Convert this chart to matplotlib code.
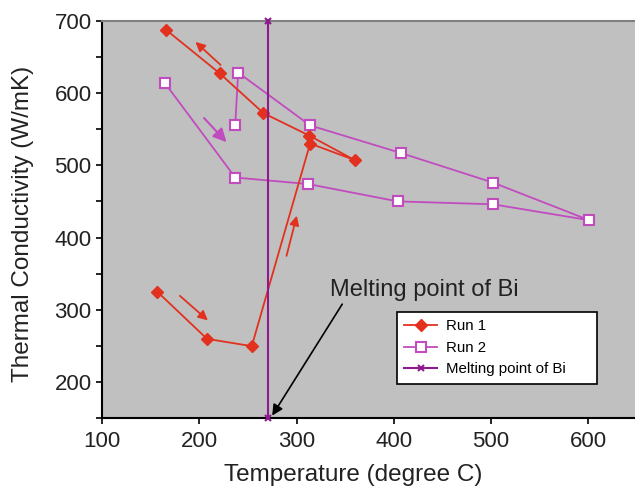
import numpy as np
import matplotlib.pyplot as plt

plt.rcParams['font.family'] = ['Liberation Sans', 'DejaVu Sans']

# Run 1 (in measurement order)
run1_t = [157, 208, 254, 314, 360, 313, 266, 221, 166]
run1_k = [325, 260, 250, 530, 507, 541, 572, 627, 687]

# Run 2 (in measurement order)
run2_t = [165, 237, 312, 404, 502, 601, 502, 407, 314, 240, 237]
run2_k = [613, 483, 474, 450, 446, 424, 476, 517, 555, 628, 556]

# melting point of Bi
mp_t = [271, 271]
mp_k = [150, 700]

red = '#e2311f'
mag = '#c04cbf'
purple = '#8e1a8e'

fig = plt.figure(figsize=(6.35, 4.87), dpi=100)
ax = fig.add_axes([0.1606, 0.1407, 0.8394, 0.8172])
ax.set_facecolor('#c0c0c0')

ax.plot(run1_t, run1_k, color=red, lw=1.3, marker='D', ms=6.5,
        mfc=red, mec=red, label='Run 1', zorder=4)
ax.plot(run2_t, run2_k, color=mag, lw=1.3, marker='s', ms=6.5,
        mfc='white', mec=mag, mew=1.5, label='Run 2', zorder=3)
ax.plot(mp_t, mp_k, color=purple, lw=1.5, marker='x', ms=5, mew=1.5,
        label='Melting point of Bi', clip_on=False, zorder=5)

# direction arrows
ax.annotate('', xy=(194, 673), xytext=(224, 636),
            arrowprops=dict(arrowstyle='-|>', color=red, lw=1.3, mutation_scale=14))
ax.annotate('', xy=(211, 283), xytext=(178, 322),
            arrowprops=dict(arrowstyle='-|>', color=red, lw=1.3, mutation_scale=14))
ax.annotate('', xy=(301, 434), xytext=(289, 371),
            arrowprops=dict(arrowstyle='-|>', color=red, lw=1.3, mutation_scale=14))
ax.annotate('', xy=(230, 529), xytext=(203, 568),
            arrowprops=dict(arrowstyle='-|>', color=mag, lw=1.5, mutation_scale=20))

# melting point label and arrow
ax.text(334, 328, 'Melting point of Bi', fontsize=17, color='#222222',
        va='center', ha='left')
ax.annotate('', xy=(275, 154), xytext=(347, 308),
            arrowprops=dict(arrowstyle='-|>', color='black', lw=1.2,
                            mutation_scale=16, shrinkA=0, shrinkB=0))

ax.set_xlim(100, 648)
ax.set_ylim(150, 700)
ax.set_xticks([100, 200, 300, 400, 500, 600])
ax.set_yticks([200, 300, 400, 500, 600, 700])
ax.set_yticks([150, 250, 350, 450, 550, 650], minor=True)
ax.tick_params(axis='both', direction='out', length=4, width=1.2,
               labelsize=16, colors='black', labelcolor='#222222')
ax.tick_params(axis='x', pad=5)
ax.tick_params(axis='y', which='minor', direction='out', length=4, width=1.2)

ax.spines['right'].set_visible(False)
ax.spines['top'].set_color('#808080')
ax.spines['top'].set_linewidth(1.5)
ax.spines['left'].set_linewidth(1.5)
ax.spines['bottom'].set_linewidth(1.5)

ax.set_xlabel('Temperature (degree C)', fontsize=17.5, color='#222222', va='center')
ax.xaxis.set_label_coords(0.471, -0.142)
ax.set_ylabel('Thermal Conductivity (W/mK)', fontsize=17.5, color='#222222', va='center')
ax.yaxis.set_label_coords(-0.148, 0.49)

leg = ax.legend(loc='upper left', bbox_to_anchor=(0.553, 0.087, 0.376, 0.181),
                mode='expand', alignment='center', fontsize=10.8, frameon=True,
                fancybox=False, edgecolor='black', facecolor='white', framealpha=1,
                handlelength=2.2, labelspacing=0.5, borderpad=0.5,
                handletextpad=0.6, borderaxespad=0)
leg.get_frame().set_linewidth(1.2)

fig.savefig('out.png', dpi=100)
